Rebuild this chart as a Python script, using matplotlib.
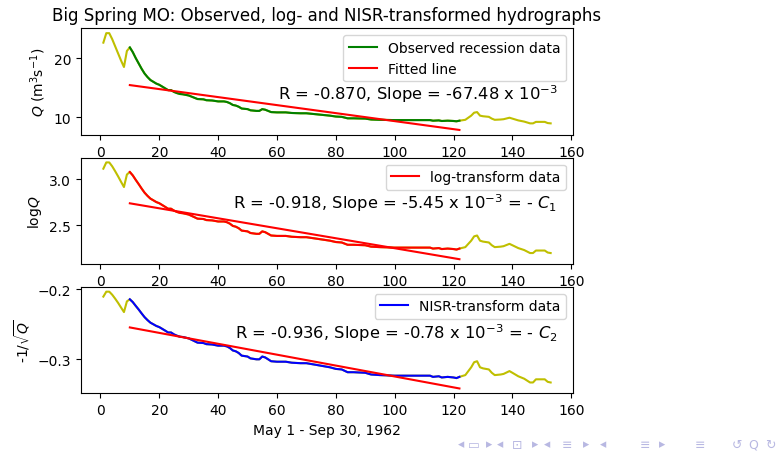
import numpy as np
import matplotlib
matplotlib.use("Agg")
import matplotlib.pyplot as plt

# 일자(5/1=1) 및 관측 유량 Q (m3/s), 그림에서 읽은 값
days = [1, 2, 3, 4, 5, 6, 7, 8, 9, 10,
        11, 12, 13, 14, 15, 16, 17, 18, 19, 20,
        21, 22, 23, 24, 25, 26, 27, 28, 29, 30,
        31, 32, 33, 35, 36, 38, 40, 42, 43, 44,
        45, 46, 47, 48, 50, 51, 53, 54, 55, 56,
        57, 58, 60, 63, 65, 68, 70, 72, 74, 76,
        78, 80, 82, 84, 86, 90, 92, 95, 100, 105,
        110, 112, 113, 115, 116, 118, 120, 121, 122,
        124, 126, 127, 128, 129, 130, 132, 133, 134, 136,
        137, 139, 140, 142, 144, 146, 147, 148, 151, 152, 153]
q = [22.6, 24.2, 24.2, 23.2, 22.0, 20.8, 19.6, 18.5, 21.2, 21.8,
     21.0, 20.0, 19.1, 18.2, 17.4, 16.8, 16.3, 16.0, 15.7, 15.5,
     15.2, 14.9, 14.6, 14.6, 14.3, 14.1, 13.95, 13.9, 13.8, 13.7,
     13.5, 13.3, 13.1, 13.05, 12.9, 12.85, 12.7, 12.7, 12.6, 12.4,
     12.1, 12.0, 11.8, 11.5, 11.4, 11.2, 11.1, 11.1, 11.4, 11.3,
     11.1, 10.9, 10.85, 10.85, 10.75, 10.7, 10.7, 10.6, 10.5, 10.4,
     10.3, 10.15, 10.1, 9.85, 9.85, 9.8, 9.65, 9.6, 9.55, 9.55,
     9.55, 9.55, 9.45, 9.5, 9.4, 9.45, 9.4, 9.35, 9.45,
     9.6, 10.3, 10.8, 10.9, 10.3, 10.2, 10.1, 9.8, 9.6, 9.65,
     9.7, 9.95, 9.8, 9.5, 9.3, 9.0, 9.0, 9.25, 9.25, 9.05, 9.0]

# 감수(recession) 구간
rec_start, rec_end = 10, 122

# 회귀선 양 끝점
fit_x = [10, 122]
q_fit = [15.45, 7.89]
log_fit = [2.74, 2.13]
nisr_fit = [-0.2545, -0.3419]

stats = [
    r"R = -0.870, Slope = -67.48 x 10$^{-3}$",
    r"R = -0.918, Slope = -5.45 x 10$^{-3}$ = - $C_1$",
    r"R = -0.936, Slope = -0.78 x 10$^{-3}$ = - $C_2$",
]

x = np.array(days)
qa = np.array(q)
rec = (x >= rec_start) & (x <= rec_end)
series = [qa, np.log(qa), -1 / np.sqrt(qa)]
fits = [q_fit, log_fit, nisr_fit]
rec_colors = ["g", "r", "b"]
rec_labels = ["Observed recession data", "log-transform data", "NISR-transform data"]
ylabels = [r"$Q$ (m$^3$s$^{-1}$)", r"log$Q$", r"-1/$\sqrt{Q}$"]
text_y = [0.39, 0.585, 0.57]

fig, axes = plt.subplots(3, 1, figsize=(7.81, 4.56), dpi=100)
fig.subplots_adjust(left=0.1037, right=0.7337, bottom=0.1353, top=0.9357, hspace=0.214)

for i, ax in enumerate(axes):
    y = series[i]
    ax.plot(x, y, color="y")
    ax.plot(x[rec], y[rec], color=rec_colors[i], label=rec_labels[i])
    if i == 0:
        ax.plot(fit_x, fits[i], color="r", label="Fitted line")
    else:
        ax.plot(fit_x, fits[i], color="r")
    ax.legend(loc="upper right")
    ax.text(0.968, text_y[i], stats[i], transform=ax.transAxes,
            ha="right", va="center", fontsize=11.8)
    ax.set_ylabel(ylabels[i])
    ax.set_xticks([0, 20, 40, 60, 80, 100, 120, 140, 160])

axes[0].set_title("Big Spring MO: Observed, log- and NISR-transformed hydrographs")
axes[2].set_xlabel("May 1 - Sep 30, 1962")

# beamer 내비게이션 기호
nav_col = "#b8b8e2"
nav = [(0.590, "◂"), (0.607, "▭"), (0.626, "▸"), (0.640, "◂"), (0.662, "⊡"),
       (0.685, "▸"), (0.700, "◂"), (0.726, "≡"), (0.750, "▸"), (0.772, "◂"),
       (0.826, "≡"), (0.848, "▸"), (0.896, "≡"), (0.944, "↺"), (0.964, "Q"),
       (0.986, "↻")]
for fx, s in nav:
    fig.text(fx, 0.024, s, color=nav_col, fontsize=9, ha="center", va="center")

fig.savefig("out.png", dpi=100)
plt.close(fig)
